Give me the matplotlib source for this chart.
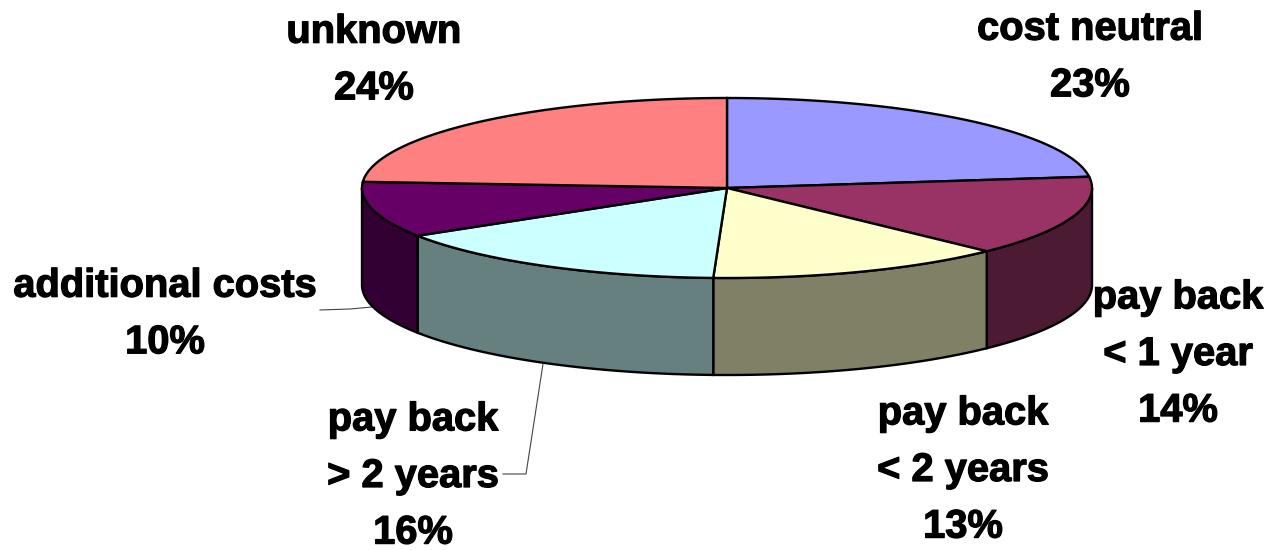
import numpy as np
from matplotlib import pyplot as plt
from matplotlib import patheffects

# shown percentages are rounded, shares are what the wedge boundaries measure
labels = ['cost neutral\n23%', 'pay back\n< 1 year\n14%', 'pay back\n< 2 years\n13%',
          'pay back\n> 2 years\n16%', 'additional costs\n10%', 'unknown\n24%']
shares = [23, 14.4, 13.2, 15.5, 10, 23.9]
top_colors = ['#9999FF', '#993366', '#FFFFCC', '#CCFFFF', '#660066', '#FF8080']
side_colors = ['#4D4D80', '#4D1A33', '#808066', '#668080', '#330033', '#804040']
label_pos = [(1090, 57), (1178, 354), (963, 470), (413, 476), (165, 314), (374, 60)]

CX, CY = 727, 188
RX, RY = 365, 90
DEPTH = 97


def ell(theta, dy=0):
    return CX + RX * np.cos(theta), CY + dy - RY * np.sin(theta)


fig = plt.figure(figsize=(12.7, 5.5), dpi=100)
ax = fig.add_axes([0, 0, 1, 1])
ax.set_xlim(0, 1270)
ax.set_ylim(550, 0)
ax.axis('off')

# clockwise from 12 o'clock
bounds = np.pi / 2 - 2 * np.pi * np.cumsum([0] + shares) / 100

# side walls, only the part of each wedge on the front half
for i in range(len(shares)):
    a0, a1 = bounds[i], bounds[i + 1]
    # front half is theta in (-pi, 0)
    lo, hi = max(a1, -np.pi), min(a0, 0)
    if lo >= hi:
        continue
    t = np.linspace(hi, lo, 80)
    x, y = ell(t)
    x2, y2 = ell(t[::-1], DEPTH)
    ax.fill(np.r_[x, x2], np.r_[y, y2], fc=side_colors[i], ec='black', lw=1.7, zorder=2)

# the top
for i in range(len(shares)):
    t = np.linspace(bounds[i], bounds[i + 1], 120)
    x, y = ell(t)
    ax.fill(np.r_[CX, x], np.r_[CY, y], fc=top_colors[i], ec='black', lw=1.7, zorder=3)

# leader lines
ax.plot([320, 350, 372], [310, 309, 307], color='#444444', lw=0.8, zorder=1)
ax.plot([503, 526, 543], [474, 474, 364], color='#444444', lw=0.8, zorder=4)

for s, (x, y) in zip(labels, label_pos):
    t = ax.text(x, y, s, ha='center', va='center', family='Liberation Sans', weight='bold',
                fontsize=28.7, linespacing=1.62, color='black', zorder=5)
    t.set_path_effects([patheffects.withStroke(linewidth=0.9, foreground='black')])

fig.savefig('out.png', dpi=100)
